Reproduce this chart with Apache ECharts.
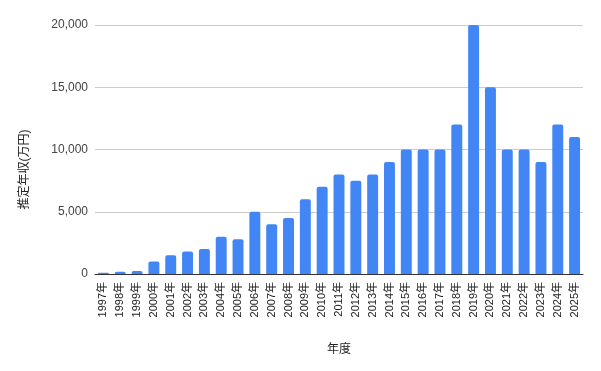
<!DOCTYPE html>
<html><head><meta charset="utf-8">
<script src="https://cdn.jsdelivr.net/npm/echarts@6/dist/echarts.min.js"></script>
<style>html,body{margin:0;padding:0;background:#fff}#c{width:601px;height:371px}</style>
</head><body><div id="c"></div>
<script>
const years = ['1997年','1998年','1999年','2000年','2001年','2002年','2003年','2004年','2005年','2006年','2007年','2008年','2009年','2010年','2011年','2012年','2013年','2014年','2015年','2016年','2017年','2018年','2019年','2020年','2021年','2022年','2023年','2024年','2025年'];
const income = [100,180,250,1000,1500,1800,2000,3000,2800,5000,4000,4500,6000,7000,8000,7500,8000,9000,10000,10000,10000,12000,20000,15000,10000,10000,9000,12000,11000];
const yTicks = [0,5000,10000,15000,20000];
const font = '"Liberation Sans", Arial, "Noto Sans CJK JP", sans-serif';
const chart = echarts.init(document.getElementById('c'));
chart.setOption({
  animation:false,
  textStyle:{fontFamily:font},
  grid:{left:95,right:18,top:25,bottom:97,containLabel:false},
  xAxis:{type:'category',data:years,name:'年度',nameLocation:'middle',nameGap:70,
    nameTextStyle:{color:'#222',fontSize:12,fontFamily:font},
    axisLine:{lineStyle:{color:'#333'}},axisTick:{show:false},
    axisLabel:{rotate:90,interval:0,color:'#222',fontSize:11,margin:8,fontFamily:font}},
  yAxis:{type:'value',min:yTicks[0],max:yTicks[yTicks.length-1],interval:5000,
    name:'推定年収(万円)',nameLocation:'middle',nameGap:64,
    nameTextStyle:{color:'#222',fontSize:12,fontFamily:font,padding:[0,0,0,-40]},
    axisLine:{show:false},axisTick:{show:false},
    axisLabel:{color:'#444',fontSize:12,margin:7,fontFamily:font,
      formatter:v=>v.toLocaleString('en-US')},
    splitLine:{lineStyle:{color:'#ccc'}}},
  series:[{type:'bar',data:income,barWidth:'65%',itemStyle:{color:'#4285F4',borderRadius:[2,2,0,0]}}]
});
</script></body></html>
